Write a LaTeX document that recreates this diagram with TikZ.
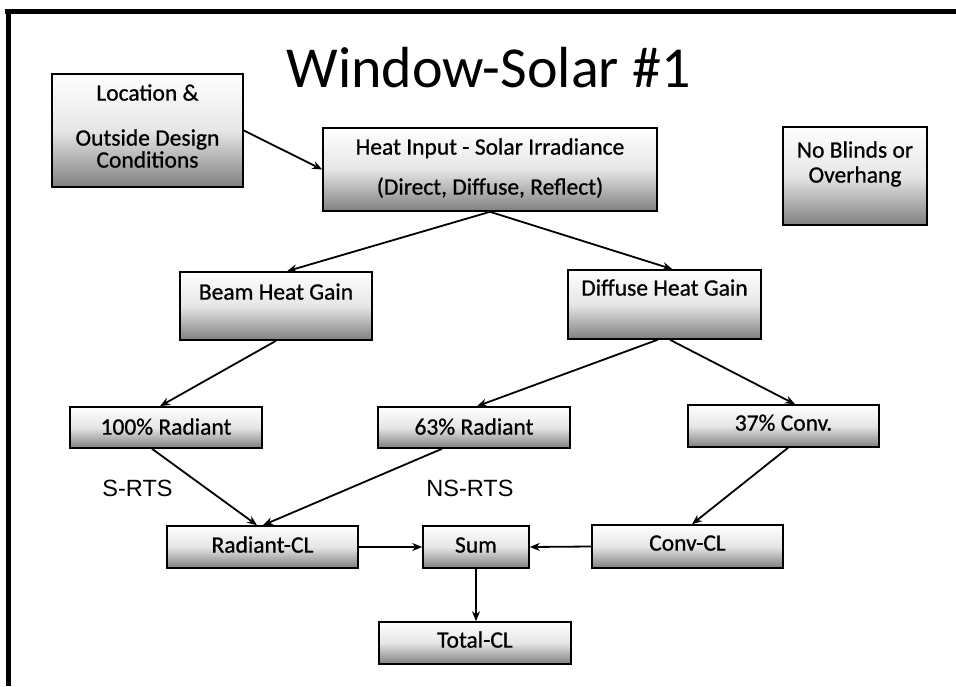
\documentclass[tikz,border=0pt]{standalone}
\usepackage{fontspec}
\setmainfont{Carlito}
\newfontfamily\boxfont[FakeBold=0.8]{Carlito}
\newfontfamily\arialf{Liberation Sans}
\usetikzlibrary{arrows.meta}
\tikzset{
  box/.style={draw=black, line width=1.6pt, top color=white, bottom color=black!50, middle color=black!10,
    inner xsep=0pt, inner ysep=0pt, font=\boxfont\fontsize{23.5}{24}\selectfont},
  txt/.style={inner sep=0pt, anchor=base, font=\boxfont\fontsize{23.5}{24}\selectfont},
  rts/.style={inner sep=0pt, anchor=base, font=\arialf\fontsize{23.5}{24}\selectfont},
  arr/.style={line width=1.8pt, -{Stealth[length=10pt,width=8pt]}},
  frameline/.style={line width=4.8pt},
}
\begin{document}
\begin{tikzpicture}[x=1pt,y=-1pt]
\useasboundingbox (0,0) rectangle (956,686);
% frame
\draw[frameline] (5,11.7) -- (956,11.7);
\draw[frameline] (8.5,9.3) -- (8.5,686);
% title
\node[inner sep=0pt, anchor=base, font=\fontsize{58}{60}\selectfont] (title) at (488.5,87) {Window-Solar \#1};
% multi-line boxes
\node[box, minimum width=191pt, minimum height=113pt] (loc) at (147.5,130.5) {};
\node[txt] (loc1) at (147.5,100.6) {Location \&};
\node[txt] (loc2) at (147.5,145.6) {Outside Design};
\node[txt] (loc3) at (147.5,167.6) {Conditions};
\node[box, minimum width=334pt, minimum height=83pt] (heat) at (490,169.5) {};
\node[txt] (heat1) at (490,154.6) {Heat Input - Solar Irradiance};
\node[txt] (heat2) at (490,194.6) {(Direct, Diffuse, Reflect)};
\node[box, minimum width=144pt, minimum height=98pt] (nob) at (855,176) {};
\node[txt] (nob1) at (855,157.6) {No Blinds or};
\node[txt] (nob2) at (855,182.6) {Overhang};
% single-line boxes
\node[box, minimum width=192pt, text height=27.6pt, text depth=40.4pt] (beam) at (276,306) {Beam Heat Gain};
\node[box, minimum width=193pt, text height=25.6pt, text depth=43.4pt] (diff) at (664.5,304.5) {Diffuse Heat Gain};
\node[box, minimum width=192pt, text height=27.6pt, text depth=13.4pt] (r100) at (166,427.5) {100\% Radiant};
\node[box, minimum width=192pt, text height=27.6pt, text depth=13.4pt] (r63) at (474,427.5) {63\% Radiant};
\node[box, minimum width=191pt, text height=25.6pt, text depth=16.4pt] (c37) at (783.5,426) {37\% Conv.};
\node[box, minimum width=191pt, text height=26.6pt, text depth=15.4pt] (radcl) at (262.5,547) {Radiant-CL};
\node[box, minimum width=106pt, text height=26.6pt, text depth=15.4pt] (sum) at (476,547) {Sum};
\node[box, minimum width=191pt, text height=25.6pt, text depth=17.4pt] (convcl) at (687.5,546.5) {Conv-CL};
\node[box, minimum width=192pt, text height=25.6pt, text depth=16.4pt] (total) at (475,643) {Total-CL};
% labels
\node[rts] (srts) at (137.5,496) {S-RTS};
\node[rts] (nsrts) at (470,496) {NS-RTS};
% connectors
\draw[arr] (loc.east) -- (heat.west);
\draw[arr] (heat.south) -- ([xshift=11pt]beam.north);
\draw[arr] (heat.south) -- ([xshift=8pt]diff.north);
\draw[arr] (beam.south) -- ([xshift=-6pt]r100.north);
\draw[arr] ([xshift=-7pt]diff.south) -- ([xshift=3pt]r63.north);
\draw[arr] ([xshift=5.5pt]diff.south) -- ([xshift=11.5pt]c37.north);
\draw[arr] ([xshift=-14pt]r100.south) -- ([xshift=-5.5pt]radcl.north);
\draw[arr] ([xshift=-32pt]r63.south) -- ([xshift=0.5pt]radcl.north);
\draw[arr] ([xshift=4.5pt]c37.south) -- ([xshift=4.5pt]convcl.north);
\draw[arr] (radcl.east) -- (sum.west);
\draw[arr] (convcl.west) -- (sum.east);
\draw[arr] (sum.south) -- (sum.south |- total.north);
\end{tikzpicture}
\end{document}
